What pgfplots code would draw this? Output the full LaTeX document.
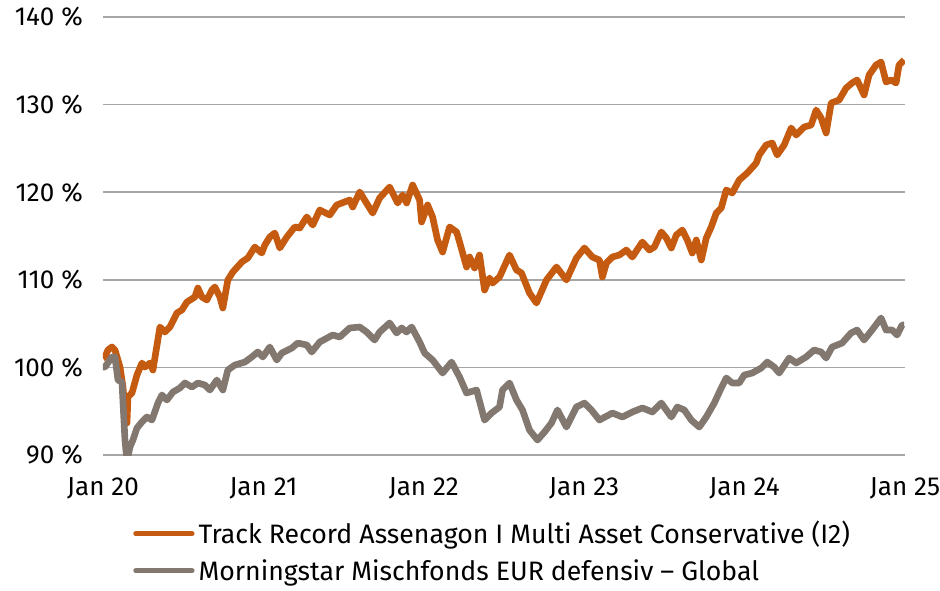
\documentclass[border=0pt]{standalone}
\usepackage{fontspec}
\setmainfont{Fira Sans}
\usepackage{pgfplots}
\pgfplotsset{compat=1.18}
\definecolor{aorange}{HTML}{C55A11}
\definecolor{agray}{HTML}{82786F}
\definecolor{agrid}{HTML}{A6A6A6}

% x = years since Jan 2020, y = indexed value in %
\pgfplotstableread{
t v
0 101.07
0.0125 101.19
0.0311 101.99
0.0560 102.33
0.0747 101.99
0.1059 100.04
0.1245 97.76
0.1370 95.14
0.1494 93.65
0.1557 96.62
0.1806 97.08
0.2117 99.13
0.2429 100.50
0.2615 100.04
0.2927 100.50
0.3113 99.70
0.3550 104.61
0.3861 104.04
0.4172 104.61
0.4608 106.21
0.4919 106.55
0.5231 107.46
0.5729 108.04
0.5916 109.06
0.6165 108.04
0.6476 107.69
0.6788 108.83
0.6974 109.18
0.7286 108.04
0.7472 106.78
0.7784 109.98
0.8095 110.89
0.8655 112.03
0.9029 112.49
0.9465 113.74
0.9901 113.06
1.0088 113.97
1.0399 114.88
1.0710 115.34
1.1022 113.63
1.1458 114.88
1.1956 116.03
1.2267 115.91
1.2703 117.17
1.3077 116.25
1.3513 117.97
1.4135 117.40
1.4571 118.54
1.5381 119.11
1.5568 118.31
1.6004 120.02
1.6813 117.62
1.7249 119.34
1.7871 120.59
1.8370 118.77
1.8681 119.68
1.8930 118.77
1.9304 120.82
1.9740 119.11
1.9864 116.60
2.0238 118.54
2.0549 117.17
2.0860 114.54
2.1172 113.17
2.1608 116.03
2.2044 115.46
2.2231 114.31
2.2667 111.46
2.2854 112.60
2.3165 111.35
2.3476 112.83
2.3788 108.83
2.4098 110.20
2.4285 109.63
2.4721 110.32
2.5344 112.83
2.5780 111.12
2.6091 110.78
2.6590 108.49
2.7025 107.35
2.7648 109.98
2.8271 111.46
2.8893 109.98
2.9516 112.49
3.0014 113.63
3.0512 112.60
3.0948 112.26
3.1135 110.32
3.1384 111.92
3.1758 112.60
3.2194 112.83
3.2630 113.40
3.3003 112.60
3.3626 114.31
3.4062 113.40
3.4373 113.74
3.4809 115.46
3.5121 114.77
3.5432 113.63
3.5743 115.11
3.6117 115.68
3.6428 114.54
3.6739 113.06
3.6988 114.54
3.7300 112.26
3.7611 114.77
3.7922 116.03
3.8234 117.62
3.8545 118.20
3.8856 120.25
3.9230 119.91
3.9666 121.39
4.0164 122.19
4.0724 123.33
4.0911 124.25
4.1347 125.39
4.1721 125.62
4.2032 124.25
4.2468 125.39
4.2904 127.33
4.3215 126.53
4.3713 127.44
4.4149 127.67
4.4461 129.38
4.4772 128.47
4.5083 126.76
4.5395 130.18
4.5893 130.52
4.6329 131.89
4.6703 132.47
4.7014 132.81
4.7450 131.10
4.7761 133.38
4.8197 134.52
4.8508 134.86
4.8820 132.58
4.9131 132.81
4.9442 132.47
4.9629 134.52
4.9941 135.09
}\trackrecord

\pgfplotstableread{
t v
0 100.04
0.0125 100.04
0.0560 101.19
0.0747 101.19
0.0934 98.56
0.1183 98.33
0.1370 91.71
0.1494 89.30
0.1681 90.91
0.1868 91.71
0.2117 93.08
0.2429 93.77
0.2740 94.34
0.3051 93.99
0.3425 95.93
0.3674 96.85
0.3985 96.28
0.4359 97.19
0.4795 97.65
0.5106 98.22
0.5542 97.76
0.5916 98.22
0.6352 97.99
0.6663 97.42
0.7099 98.56
0.7472 97.42
0.7784 99.70
0.8220 100.27
0.8842 100.61
0.9278 101.19
0.9652 101.76
0.9963 101.19
1.0399 102.33
1.0835 100.84
1.1146 101.64
1.1769 102.21
1.2143 102.78
1.2703 102.56
1.3014 101.76
1.3513 102.90
1.4322 103.70
1.4758 103.47
1.5381 104.50
1.6004 104.61
1.6439 104.04
1.6937 103.13
1.7249 104.04
1.7871 105.07
1.8307 103.93
1.8619 104.50
1.8930 104.04
1.9241 104.61
1.9740 102.90
2.0051 101.64
2.0549 100.84
2.1172 99.36
2.1732 100.61
2.2231 98.90
2.2667 97.08
2.3289 97.42
2.3788 93.99
2.4223 94.79
2.4721 95.48
2.4908 97.42
2.5344 98.22
2.5780 96.28
2.6153 95.14
2.6590 92.85
2.7087 91.71
2.7523 92.62
2.7959 93.65
2.8333 95.14
2.8893 93.19
2.9516 95.48
3.0014 95.93
3.0450 95.14
3.0948 93.99
3.1758 94.79
3.2380 94.34
3.3003 94.91
3.3626 95.37
3.4249 94.91
3.4809 95.93
3.5432 94.34
3.5806 95.48
3.6241 95.14
3.6677 93.99
3.7175 93.19
3.7611 94.34
3.8109 95.93
3.8545 97.65
3.8856 98.79
3.9230 98.22
3.9666 98.22
3.9977 99.13
4.0476 99.36
4.1036 99.93
4.1410 100.61
4.1845 100.04
4.2157 99.36
4.2779 101.07
4.3215 100.50
4.3838 101.19
4.4336 101.99
4.4772 101.76
4.5083 101.07
4.5457 102.33
4.6080 102.78
4.6640 103.93
4.7014 104.27
4.7450 103.13
4.7948 104.27
4.8508 105.64
4.8820 104.27
4.9193 104.27
4.9505 103.70
4.9816 104.84
4.9941 104.84
}\benchmark

\begin{document}
\begin{tikzpicture}
\begin{axis}[
  at={(0,0)}, anchor=south west,
  scale only axis, width=601.5pt, height=328.5pt,
  xmin=0, xmax=5, ymin=90, ymax=140,
  xtick={0,1,2,3,4,5},
  xticklabels={Jan 20,Jan 21,Jan 22,Jan 23,Jan 24,Jan 25},
  ytick={90,100,110,120,130,140},
  yticklabels={90 \%,100 \%,110 \%,120 \%,130 \%,140 \%},
  ymajorgrids, grid style={agrid, line width=1.1pt},
  axis line style={draw=none}, major tick length=0pt,
  ticklabel style={font=\fontsize{19.5}{22}\selectfont},
  yticklabel style={inner sep=0pt, xshift=-15pt},
  xticklabel style={inner sep=0pt, yshift=-17pt},
  legend style={at={(rel axis cs:0.0374,-0.145)}, anchor=north west,
    draw=none, fill=none, inner sep=0pt,
    font=\fontsize{20}{22}\selectfont, row sep=6pt,
    /tikz/every odd column/.append style={column sep=1pt}},
  legend cell align=left,
  legend image code/.code={\draw[#1, line width=4pt, line cap=round] (0pt,0pt) -- (42pt,0pt);},
]
\addplot[aorange, line width=5pt, line join=round] table[x=t, y=v] {\trackrecord};
\addplot[agray, line width=5pt, line join=round] table[x=t, y=v] {\benchmark};
\legend{Track Record Assenagon I Multi Asset Conservative (I2),
        Morningstar Mischfonds EUR defensiv – Global}
\end{axis}
\pgfresetboundingbox
\useasboundingbox (-77.25pt,-101.25pt) rectangle (627.75pt,341.25pt);
\end{tikzpicture}
\end{document}
